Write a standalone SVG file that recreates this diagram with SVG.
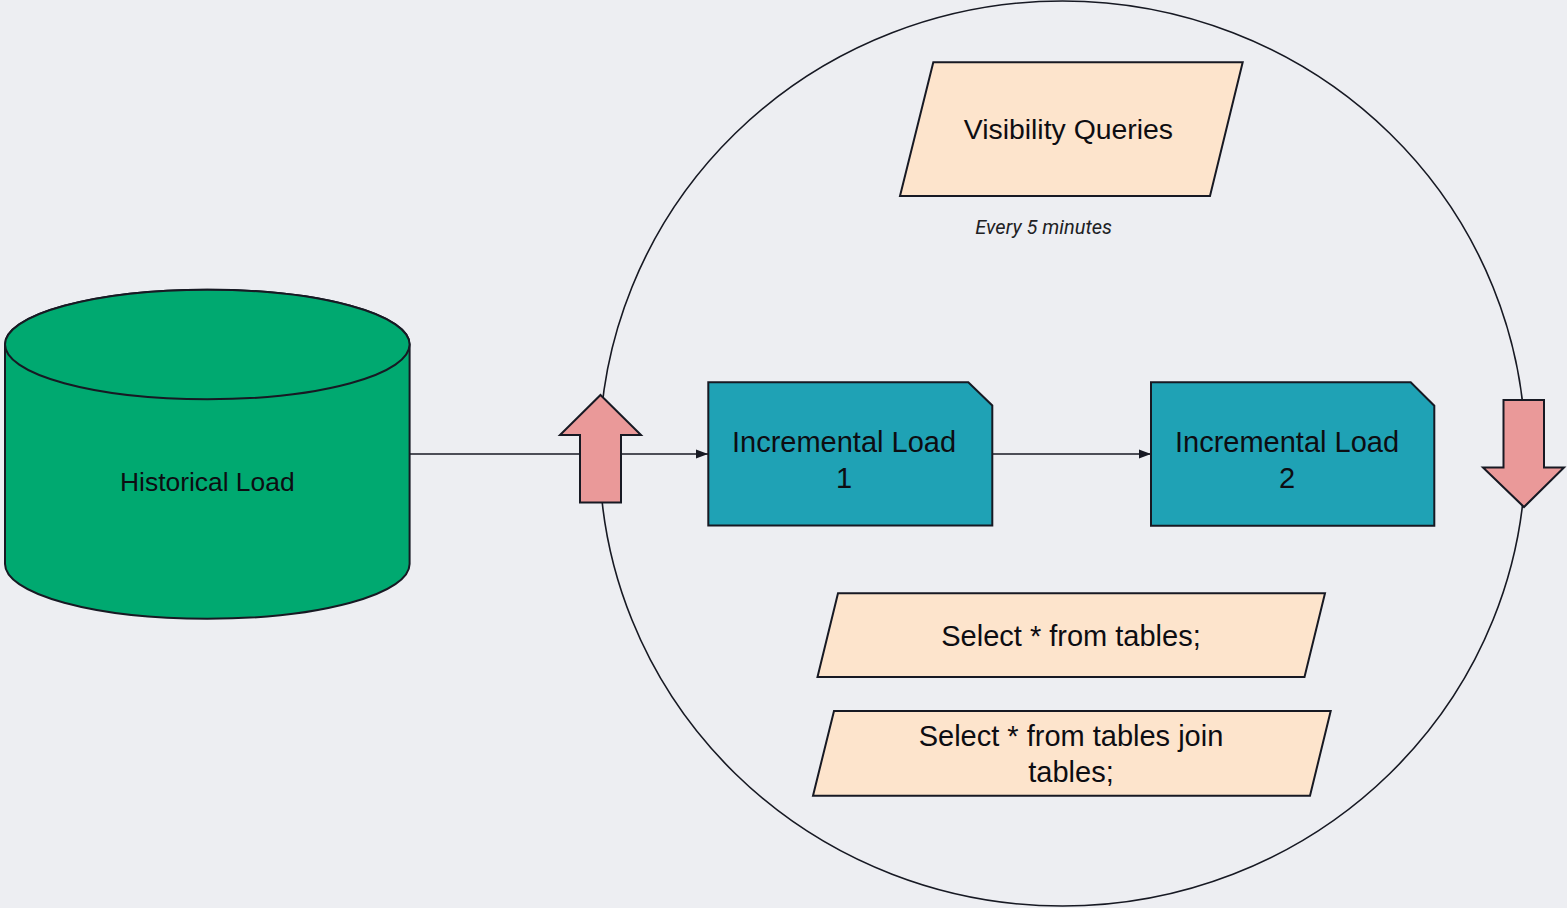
<svg xmlns="http://www.w3.org/2000/svg" width="1567" height="908" viewBox="0 0 1567 908">
  <defs>
    <style>
      .bg { fill: #edeef2; }
      .outline { stroke: #171923; stroke-width: 2; stroke-linejoin: miter; }
      .cycle { fill: none; stroke: #171923; stroke-width: 1.6; }
      .db { fill: #00a970; }
      .step { fill: #1fa2b5; }
      .query { fill: #fde4cc; }
      .marker-arrow { fill: #ea9999; }
      .wire { fill: none; stroke: #171923; stroke-width: 1.6; }
      .label { font-family: "Liberation Sans", Arial, sans-serif; font-size: 29px; fill: #0d0d12; text-anchor: middle; }
      .note { font-family: Roboto, "Noto Sans", sans-serif; font-style: italic; font-size: 20px; fill: #202124; text-anchor: middle; }
    </style>
    <marker id="arrowhead" markerUnits="userSpaceOnUse" markerWidth="13" markerHeight="10" refX="12" refY="5" orient="auto">
      <path d="M0,0.5 L12,5 L0,9.5 Z" fill="#171923"/>
    </marker>
  </defs>

  <rect class="bg" x="0" y="0" width="1567" height="908"/>

  <!-- refresh cycle boundary -->
  <g id="cycle">
    <ellipse class="cycle" cx="1062.5" cy="453.5" rx="463" ry="452.5"/>
  </g>

  <!-- connectors -->
  <g id="connectors">
    <line class="wire" x1="410" y1="454" x2="708" y2="454" marker-end="url(#arrowhead)"/>
    <line class="wire" x1="992" y1="454" x2="1151" y2="454" marker-end="url(#arrowhead)"/>
  </g>

  <!-- historical load (database) -->
  <g id="historical-load">
    <path class="db outline" d="M5,344.5 L5,564 A202.3,54.8 0 0 0 409.6,564 L409.6,344.5 A202.3,54.8 0 0 0 5,344.5 Z"/>
    <ellipse class="db outline" cx="207.3" cy="344.5" rx="202.3" ry="54.8"/>
    <text class="label" x="207.3" y="490.5" style="font-size:26.4px">Historical Load</text>
  </g>

  <!-- cycle direction markers -->
  <g id="cycle-in">
    <polygon class="marker-arrow outline" points="600.5,395 641,435 621,435 621,502.5 580,502.5 580,435 560,435"/>
  </g>
  <g id="cycle-out">
    <polygon class="marker-arrow outline" points="1503.5,400 1544,400 1544,467.5 1564,467.5 1524,507 1483,467.5 1503.5,467.5"/>
  </g>

  <!-- incremental loads -->
  <g id="incremental-load-1">
    <path class="step outline" d="M708.3,382.3 L968.3,382.3 L992.3,405.5 L992.3,525.5 L708.3,525.5 Z"/>
    <text class="label" x="844" y="451.7">Incremental Load</text>
    <text class="label" x="844" y="488.3">1</text>
  </g>
  <g id="incremental-load-2">
    <path class="step outline" d="M1151,382.3 L1410.7,382.3 L1434.3,405.7 L1434.3,525.7 L1151,525.7 Z"/>
    <text class="label" x="1287" y="451.5">Incremental Load</text>
    <text class="label" x="1287" y="488.3">2</text>
  </g>

  <!-- queries -->
  <g id="visibility-queries">
    <polygon class="query outline" points="933.3,62.3 1242.7,62.3 1210,196 900,196"/>
    <text class="label" x="1068.4" y="139.3" style="font-size:28.4px">Visibility Queries</text>
    <text class="note" x="1043.7" y="234.3">Every 5 minutes</text>
  </g>
  <g id="select-query">
    <polygon class="query outline" points="838,593.3 1325,593.3 1304.5,677 817.5,677"/>
    <text class="label" x="1071" y="646">Select * from tables;</text>
  </g>
  <g id="select-join-query">
    <polygon class="query outline" points="834,711 1330.7,711 1310,795.7 813,795.7"/>
    <text class="label" x="1071" y="745.7">Select * from tables join</text>
    <text class="label" x="1071" y="781.7">tables;</text>
  </g>
</svg>
